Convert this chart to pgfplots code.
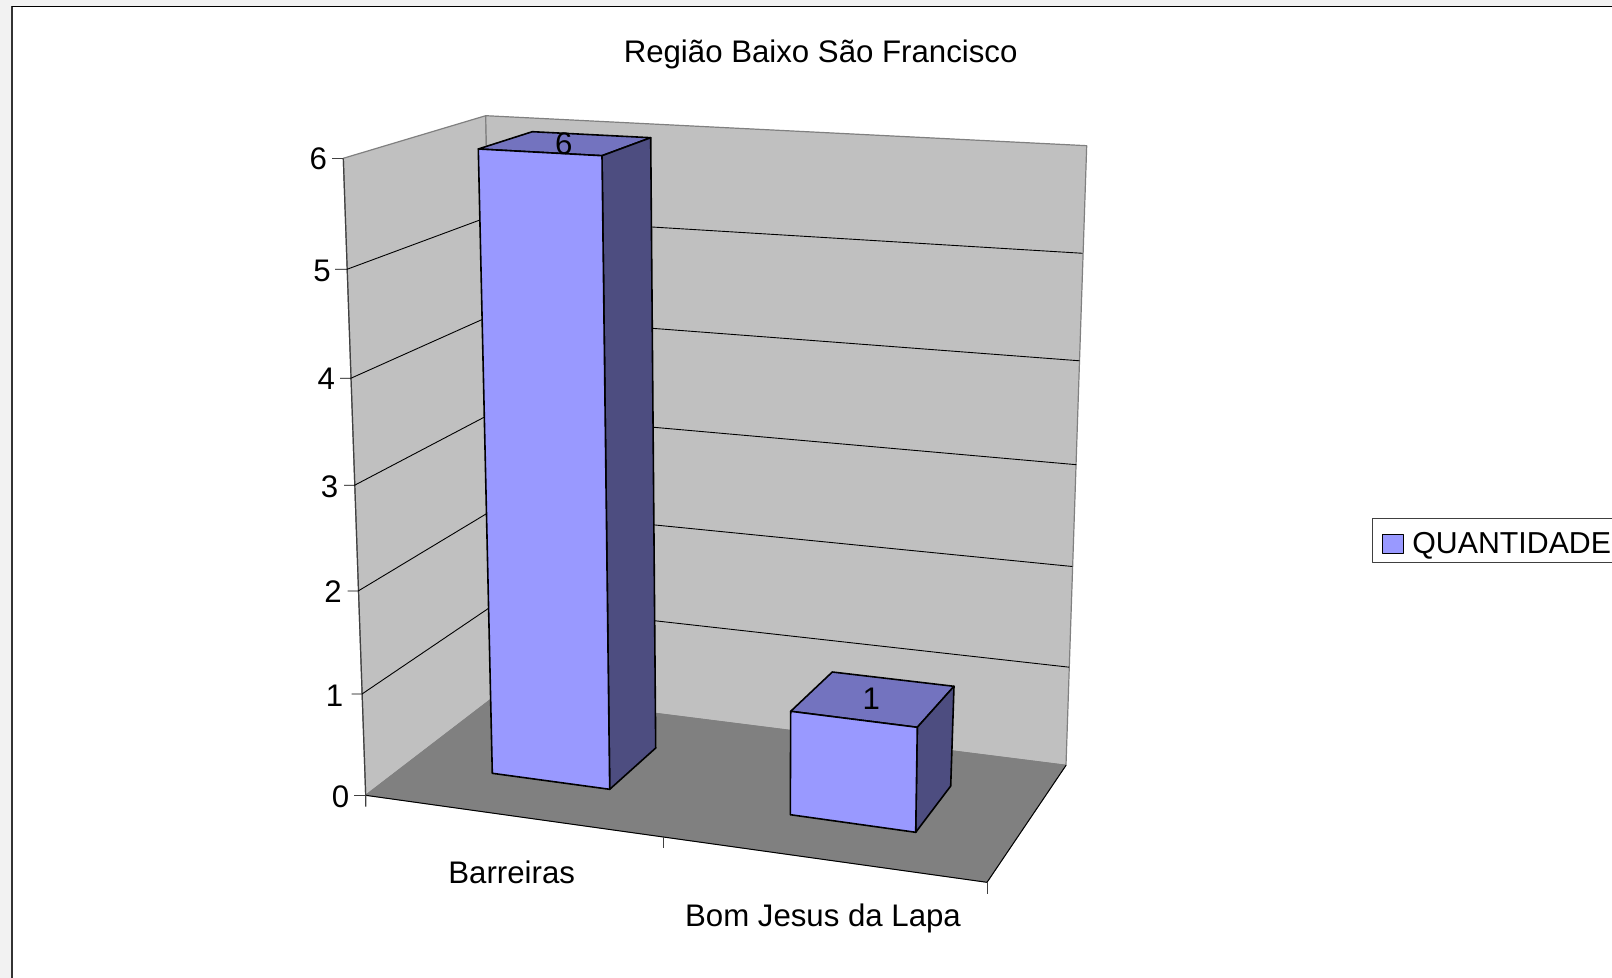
\documentclass[border=0pt]{standalone}
\usepackage{fontspec}
\setmainfont{Liberation Sans}
\usepackage{pgfplots}
\pgfplotsset{compat=1.18}
\definecolor{wall}{HTML}{C0C0C0}
\definecolor{floorc}{HTML}{808080}
\definecolor{barfront}{HTML}{9999FF}
\definecolor{bartop}{HTML}{7373BF}
\definecolor{barside}{HTML}{4D4D80}
\definecolor{outer}{HTML}{F2F2F2}
\definecolor{frameL}{HTML}{333333}
\newcommand{\lab}{\fontsize{15.6}{18}\selectfont}
\newcommand{\leglab}{\fontsize{15.15}{18}\selectfont}
\begin{document}
\begin{tikzpicture}[line join=round]
\begin{axis}[
  scale only axis, width=806pt, height=489pt,
  xmin=0, xmax=1612, ymin=0, ymax=978, y dir=reverse,
  hide axis, clip=true,
  every axis plot/.append style={line join=round},
]
% page
\addplot[fill=outer, draw=none] coordinates {(0,0)(1612,0)(1612,978)(0,978)} -- cycle;
\addplot[fill=white, draw=none] coordinates {(12,6.5)(1612,6.5)(1612,978)(12,978)} -- cycle;
\addplot[draw=frameL, line width=0.85pt] coordinates {(11.8,978)(11.8,6.5)};
\addplot[draw=black, line width=0.5pt] coordinates {(11.8,6.5)(1612,6.5)};
% walls
\addplot[fill=wall, draw=floorc, line width=0.6pt] coordinates {(343.3,158.3)(485.7,115.7)(498.5,693.5)(365.7,795.3)} -- cycle;
\addplot[fill=wall, draw=floorc, line width=0.6pt] coordinates {(485.7,115.7)(1086.7,145.7)(1066,765.3)(498.5,693.5)} -- cycle;
% floor
\addplot[fill=floorc, draw=floorc, line width=0.4pt] coordinates {(365.7,795.3)(498.5,693.5)(1066,765.3)(987,882.3)} -- cycle;
\addplot[draw=black, line width=0.5pt] coordinates {(365.7,795.3)(987,882.3)(1066,765.3)};
% left axis
\addplot[draw=black!75, line width=0.6pt] coordinates {(343.3,158.3)(365.7,795.3)(365.7,806.7)};
% value gridlines and ticks 1..5, 6
\addplot[black, line width=0.45pt] coordinates {(351.7,694)(362,694)(496.4,603)(1069.2,667.2)};
\addplot[black, line width=0.45pt] coordinates {(347.7,591)(358.2,591)(494.3,509)(1072.3,566.5)};
\addplot[black, line width=0.45pt] coordinates {(344,485.3)(354.5,485.3)(492.2,413)(1076.4,464.7)};
\addplot[black, line width=0.45pt] coordinates {(340,378.3)(350.8,378.3)(490,316)(1079.6,360.8)};
\addplot[black, line width=0.45pt] coordinates {(335,269.3)(347,269.3)(488,217)(1082.7,253.3)};
\addplot[draw=black!75, line width=0.45pt] coordinates {(332,158.3)(343.3,158.3)};
\addplot[draw=black!75, line width=0.45pt] coordinates {(354.3,795.3)(365.7,795.3)};
% category ticks
\addplot[draw=black!75, line width=0.45pt] coordinates {(663.7,837.3)(663.7,848)};
\addplot[draw=black!75, line width=0.45pt] coordinates {(987,882.3)(987,894)};
% bar Barreiras = 6
\addplot[fill=bartop, draw=black, line width=0.8pt] coordinates {(478.3,149)(532.3,131.7)(650.7,137.7)(602,155.7)} -- cycle;
\addplot[fill=barside, draw=black, line width=0.8pt] coordinates {(602,155.7)(650.7,137.7)(655.7,748)(609.7,789.3)} -- cycle;
\addplot[fill=barfront, draw=black, line width=0.8pt] coordinates {(478.3,149)(602,155.7)(609.7,789.3)(492.3,773.3)} -- cycle;
% bar Bom Jesus da Lapa = 1
\addplot[fill=bartop, draw=black, line width=0.8pt] coordinates {(790.7,711.3)(832.3,672)(954,686.3)(917.3,727.3)} -- cycle;
\addplot[fill=barside, draw=black, line width=0.8pt] coordinates {(917.3,727.3)(954,686.3)(950.7,786)(915.7,832.3)} -- cycle;
\addplot[fill=barfront, draw=black, line width=0.8pt] coordinates {(790.7,711.3)(917.3,727.3)(915.7,832.3)(790.3,814.7)} -- cycle;
% legend
\addplot[fill=white, draw=black!75, line width=0.5pt] coordinates {(1613,518.3)(1372,518.3)(1372,562.3)(1613,562.3)};
\addplot[fill=barfront, draw=black, line width=0.5pt] coordinates {(1382.7,534)(1403,534)(1403,553.3)(1382.7,553.3)} -- cycle;
% texts
\node[anchor=base, inner sep=0pt, font=\lab] at (axis cs:820.6,63) {Região Baixo São Francisco};
\node[anchor=base, inner sep=0pt, font=\lab] at (axis cs:511.7,883.3) {Barreiras};
\node[anchor=base, inner sep=0pt, font=\lab] at (axis cs:823,926.7) {Bom Jesus da Lapa};
\node[anchor=base west, inner sep=0pt, font=\leglab] at (axis cs:1412,553.3) {QUANTIDADE};
\node[anchor=base, inner sep=0pt, font=\lab] at (axis cs:563.7,154.3) {6};
\node[anchor=base, inner sep=0pt, font=\lab] at (axis cs:871.3,709.3) {1};
\node[anchor=base east, inner sep=0pt, font=\lab] at (axis cs:327.3,170) {6};
\node[anchor=base east, inner sep=0pt, font=\lab] at (axis cs:331,281.5) {5};
\node[anchor=base east, inner sep=0pt, font=\lab] at (axis cs:335.3,390) {4};
\node[anchor=base east, inner sep=0pt, font=\lab] at (axis cs:338.5,497.5) {3};
\node[anchor=base east, inner sep=0pt, font=\lab] at (axis cs:342,602.5) {2};
\node[anchor=base east, inner sep=0pt, font=\lab] at (axis cs:343.7,706) {1};
\node[anchor=base east, inner sep=0pt, font=\lab] at (axis cs:349.7,807.7) {0};
\end{axis}
\end{tikzpicture}
\end{document}
